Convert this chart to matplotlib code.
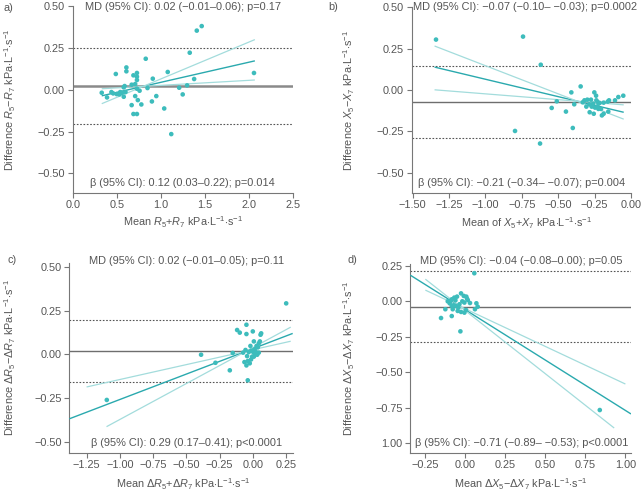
import matplotlib
matplotlib.use("Agg")
import matplotlib.pyplot as plt
import numpy as np

FAM = "Liberation Sans"
plt.rcParams['font.family'] = [FAM, 'DejaVu Sans']
plt.rcParams['mathtext.fontset'] = 'custom'
plt.rcParams['mathtext.rm'] = FAM
plt.rcParams['mathtext.it'] = FAM + ':italic'
plt.rcParams['mathtext.bf'] = FAM + ':bold'
plt.rcParams['axes.unicode_minus'] = True

# ---------------- data ----------------
# panel a
a_x = [1.466, 1.41, 1.33, 0.83, 0.61, 0.61, 0.49, 0.73, 0.73, 0.69, 0.73, 0.91, 1.08, 1.38, 2.06,
       1.30, 1.21, 1.25, 1.04, 1.12, 0.95, 0.90, 0.74, 0.78, 0.67, 0.69, 0.73, 0.71, 0.33, 0.39,
       0.44, 0.46, 0.53, 0.56, 0.58, 0.60, 0.58, 0.59, 0.67, 0.71, 0.73, 0.76, 0.85, 0.54, 0.50]
a_y = [0.38, 0.353, 0.221, 0.185, 0.133, 0.11, 0.094, 0.10, 0.078, 0.086, 0.058, 0.066, 0.106, 0.064, 0.10,
       0.026, 0.012, -0.028, -0.112, -0.265, -0.038, -0.07, -0.062, -0.088, -0.092, -0.145, -0.145, -0.038, -0.018, -0.046,
       -0.014, -0.022, -0.028, -0.018, -0.042, -0.014, 0.014, 0.022, 0.03, 0.034, 0.006, -0.006, 0.01, -0.014, -0.026]
a_md, a_lo, a_hi = 0.024, -0.205, 0.249
a_beta = [0.12, 0.03, 0.22]
a_pivot = (0.80, 0.02)
a_xr = [(0.33, 2.07), (0.33, 2.07), (0.33, 2.07)]

# panel b
b_x = [-1.34, -0.742, -0.62, -0.797, -0.625, -0.40, -0.41, -0.346, -0.545, -0.51, -0.447, -0.39, -0.252, -0.24,
       -0.32, -0.30, -0.275, -0.307, -0.284, -0.256, -0.26, -0.247, -0.23, -0.215, -0.238, -0.27, -0.20, -0.188,
       -0.188, -0.16, -0.151, -0.156, -0.11, -0.087, -0.053, -0.332, -0.286, -0.224, -0.206, -0.229]
b_y = [0.305, 0.323, 0.153, -0.247, -0.323, -0.229, -0.014, 0.022, -0.108, -0.068, -0.13, -0.086, -0.014, -0.034,
       -0.062, -0.058, -0.058, -0.10, -0.134, -0.143, -0.082, -0.106, -0.098, -0.078, -0.062, -0.10, -0.153, -0.143,
       -0.076, -0.07, -0.062, -0.13, -0.062, -0.042, -0.034, -0.074, -0.086, -0.114, -0.114, -0.072]
b_md, b_lo, b_hi = -0.07, -0.289, 0.145
b_beta = [-0.21, -0.07, -0.34]
b_pivot = (-0.37, -0.067)
b_xr = [(-1.35, -0.05), (-1.35, -0.05), (-1.35, -0.05)]

# panel c
c_x = [0.251, -1.098, -0.389, -0.281, -0.173, -0.151, -0.048, -0.118, -0.098, -0.048, 0.0, 0.063, 0.058, -0.038,
       -0.073, -0.063, -0.048, -0.038, -0.023, -0.013, -0.005, -0.018, 0.008, 0.028, 0.045, 0.053, 0.038, 0.02,
       0.003, 0.013, 0.033, 0.045, -0.043, -0.055, -0.03, 0.013, -0.013, 0.008]
c_y = [0.291, -0.26, -0.002, -0.048, -0.091, 0.008, 0.169, 0.139, 0.124, 0.116, 0.131, 0.12, 0.112, -0.148,
       0.01, -0.044, -0.063, -0.038, -0.051, -0.029, -0.013, 0.048, 0.074, 0.048, 0.063, 0.074, 0.04, 0.017,
       0.013, 0.006, -0.002, 0.01, -0.01, 0.025, 0.013, 0.029, 0.021, -0.013]
c_md, c_lo, c_hi = 0.017, -0.156, 0.194
c_beta = [0.29, 0.17, 0.41]
c_pivot = (-0.05, 0.018)
c_xr = [(-1.38, 0.30), (-1.25, 0.285), (-1.10, 0.285)]

# panel d
d_x = [0.056, 0.84, -0.031, -0.152, -0.085, -0.125, -0.11, -0.098, -0.085, -0.069, -0.052, -0.027, -0.01, 0.006,
       0.015, -0.006, -0.037, -0.06, -0.079, -0.048, -0.027, -0.006, -0.044, -0.073, -0.085, -0.019, 0.069, 0.077,
       0.06, 0.004, 0.01, -0.062, 0.029, -0.094]
d_y = [0.198, -0.767, -0.212, -0.118, -0.104, -0.056, 0.0, -0.014, 0.014, 0.026, 0.033, 0.056, 0.038, 0.033,
       0.009, -0.009, -0.021, -0.033, -0.056, -0.068, -0.075, -0.08, -0.045, -0.028, -0.033, 0.0, -0.014, -0.038,
       -0.056, -0.061, 0.019, 0.007, -0.012, 0.002]
d_md, d_lo, d_hi = -0.038, -0.289, 0.216
d_beta = [-0.71, -0.53, -0.89]
d_pivot = (-0.035, -0.035)
d_xr = [(-0.344, 1.035), (-0.25, 1.0), (-0.25, 0.93)]

# ---------------- text ----------------
a_xticks = [0.0, 0.5, 1.0, 1.5, 2.0, 2.5]
a_xlabels = ["0.0", "0.5", "1.0", "1.5", "2.0", "2.5"]
ab_yticks = [0.5, 0.25, 0.0, -0.25, -0.5]
ab_ylabels = ["0.50", "0.25", "0.00", "\u22120.25", "\u22120.50"]
b_xticks = [-1.5, -1.25, -1.0, -0.75, -0.5, -0.25, 0.0]
b_xlabels = ["\u22121.50", "\u22121.25", "\u22121.00", "\u22120.75", "\u22120.50", "\u22120.25", "0.00"]
c_xticks = [-1.25, -1.0, -0.75, -0.5, -0.25, 0.0, 0.25]
c_xlabels = ["\u22121.25", "\u22121.00", "\u22120.75", "\u22120.50", "\u22120.25", "0.00", "0.25"]
d_xticks = [-0.25, 0.0, 0.25, 0.5, 0.75, 1.0]
d_xlabels = ["\u22120.25", "0.00", "0.25", "0.50", "0.75", "1.00"]
d_yticks = [0.25, 0.0, -0.25, -0.5, -0.75, -1.0]
d_ylabels = ["0.25", "0.00", "\u22120.25", "\u22120.50", "\u22120.75", "1.00"]

U = r"kPa$\cdot$L$^{-1}$$\cdot$s$^{-1}$"
a_xt = r"Mean $\mathit{R}_{5}$+$\mathit{R}_{7}$ " + U
a_yt = r"Difference $\mathit{R}_{5}$$-$$\mathit{R}_{7}$ " + U
b_xt = r"Mean of $\mathit{X}_{5}$+$\mathit{X}_{7}$ " + U
b_yt = r"Difference $\mathit{X}_{5}$$-$$\mathit{X}_{7}$ " + U
c_xt = r"Mean $\Delta\mathit{R}_{5}$+$\Delta\mathit{R}_{7}$ " + U
c_yt = r"Difference $\Delta\mathit{R}_{5}$$-$$\Delta\mathit{R}_{7}$ " + U
d_xt = r"Mean $\Delta\mathit{X}_{5}$$-$$\Delta\mathit{X}_{7}$ " + U
d_yt = r"Difference $\Delta\mathit{X}_{5}$$-$$\Delta\mathit{X}_{7}$ " + U

a_md_t = "MD (95% CI): 0.02 (\u22120.01\u20130.06); p=0.17"
a_b_t = "\u03b2 (95% CI): 0.12 (0.03\u20130.22); p=0.014"
b_md_t = "MD (95% CI): \u22120.07 (\u22120.10\u2013 \u22120.03); p=0.0002"
b_b_t = "\u03b2 (95% CI): \u22120.21 (\u22120.34\u2013 \u22120.07); p=0.004"
c_md_t = "MD (95% CI): 0.02 (\u22120.01\u20130.05); p=0.11"
c_b_t = "\u03b2 (95% CI): 0.29 (0.17\u20130.41); p<0.0001"
d_md_t = "MD (95% CI): \u22120.04 (\u22120.08\u20130.00); p=0.05"
d_b_t = "\u03b2 (95% CI): \u22120.71 (\u22120.89\u2013 \u22120.53); p<0.0001"

# ---------------- styling ----------------
W, H = 642, 492
PT = "#3dbcbc"
MAIN = "#2aa9ae"
LIGHT = "#a3dcdc"
GRAY = "#6e6e6e"
TXT = "#555555"
FS_TICK = 7.8
FS_ANN = 7.9
FS_LAB = 7.8

fig = plt.figure(figsize=(W / 100, H / 100), dpi=100)

def box(l, r, t, b):
    return [l / W, (H - b) / H, (r - l) / W, (b - t) / H]

panels = [
    dict(pos=box(72.7, 292.7, 6, 192.7), x=a_x, y=a_y, md=a_md, lo=a_lo, hi=a_hi, beta=a_beta, piv=a_pivot, xr=a_xr,
         xlim=(0, 2.5), ylim=(-0.615, 0.5), xt=a_xticks, xl=a_xlabels, yt=ab_yticks, yl=ab_ylabels,
         xlab=a_xt, ylab=a_yt, mdt=a_md_t, bt=a_b_t, letter="a)", lp=(4, 8), ylx=10, xly=222,
         mdp=(182.7, 7), bp=(182.7, 183), mdlw=1.8, mdc="#8a8a8a", xlx=182.7),
    dict(pos=box(411.7, 631, 7.3, 192.7), x=b_x, y=b_y, md=b_md, lo=b_lo, hi=b_hi, beta=b_beta, piv=b_pivot, xr=b_xr,
         xlim=(-1.507, 0.0), ylim=(-0.62, 0.5), xt=b_xticks, xl=b_xlabels, yt=ab_yticks, yl=ab_ylabels,
         xlab=b_xt, ylab=b_yt, mdt=b_md_t, bt=b_b_t, letter="b)", lp=(328, 7), ylx=349, xly=223,
         mdp=(525, 7), bp=(522, 183), mdlw=1.0, mdc=GRAY, xlx=526),
    dict(pos=box(69.3, 292.7, 262.7, 452.7), x=c_x, y=c_y, md=c_md, lo=c_lo, hi=c_hi, beta=c_beta, piv=c_pivot, xr=c_xr,
         xlim=(-1.38, 0.30), ylim=(-0.561, 0.523), xt=c_xticks, xl=c_xlabels, yt=ab_yticks, yl=ab_ylabels,
         xlab=c_xt, ylab=c_yt, mdt=c_md_t, bt=c_b_t, letter="c)", lp=(7, 260), ylx=10, xly=484,
         mdp=(187, 261), bp=(187, 443), mdlw=1.0, mdc=GRAY, xlx=183),
    dict(pos=box(410.3, 631, 264.3, 452.7), x=d_x, y=d_y, md=d_md, lo=d_lo, hi=d_hi, beta=d_beta, piv=d_pivot, xr=d_xr,
         xlim=(-0.344, 1.035), ylim=(-1.068, 0.261), xt=d_xticks, xl=d_xlabels, yt=d_yticks, yl=d_ylabels,
         xlab=d_xt, ylab=d_yt, mdt=d_md_t, bt=d_b_t, letter="d)", lp=(348, 260), ylx=349, xly=484,
         mdp=(521, 261), bp=(522, 443), mdlw=1.0, mdc=GRAY, xlx=521),
]

for p in panels:
    ax = fig.add_axes(p["pos"])
    ax.set_xlim(*p["xlim"])
    ax.set_ylim(*p["ylim"])
    for s in ("top", "right"):
        ax.spines[s].set_visible(False)
    for s in ("left", "bottom"):
        ax.spines[s].set_color("#777777")
        ax.spines[s].set_linewidth(0.8)
    ax.tick_params(colors="#777777", labelcolor=TXT, labelsize=FS_TICK, length=3.5, width=0.8, pad=2)
    ax.set_xticks(p["xt"])
    ax.set_xticklabels(p["xl"])
    ax.set_yticks(p["yt"])
    ax.set_yticklabels(p["yl"])
    ax.patch.set_alpha(0)

    ax.axhline(p["md"], color=p["mdc"], lw=p["mdlw"], zorder=2)
    for v in (p["lo"], p["hi"]):
        ax.axhline(v, color="#555555", lw=0.8, ls=(0, (1.5, 1.5)), zorder=2)

    px, py = p["piv"]
    for i, (bta, (x0, x1)) in enumerate(zip(p["beta"], p["xr"])):
        xs = np.array([x0, x1])
        ys = py + bta * (xs - px)
        ax.plot(xs, ys, color=MAIN if i == 0 else LIGHT, lw=1.0 if i == 0 else 0.9, zorder=3,
                solid_capstyle="butt")

    ax.scatter(p["x"], p["y"], s=11, color=PT, edgecolors="none", zorder=4, clip_on=False)

    fig.text(p["lp"][0] / W, 1 - p["lp"][1] / H, p["letter"], fontsize=FS_TICK, color=TXT, ha="left", va="center")
    fig.text(p["mdp"][0] / W, 1 - p["mdp"][1] / H, p["mdt"], fontsize=FS_ANN, color=TXT, ha="center", va="center")
    fig.text(p["bp"][0] / W, 1 - p["bp"][1] / H, p["bt"], fontsize=FS_ANN, color=TXT, ha="center", va="center")
    fig.text(p["xlx"] / W, 1 - p["xly"] / H, p["xlab"], fontsize=FS_LAB, color=TXT, ha="center", va="center")
    cy = (p["pos"][1] + p["pos"][3] / 2)
    fig.text(p["ylx"] / W, cy, p["ylab"], fontsize=FS_LAB, color=TXT, ha="center", va="center", rotation=90)

fig.savefig("out.png", dpi=100)
